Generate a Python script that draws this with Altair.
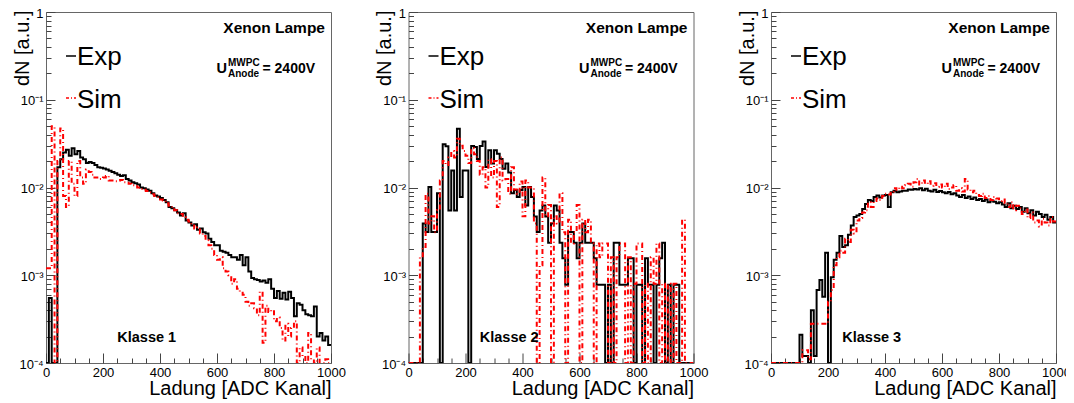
import altair as alt
import pandas as pd

# ---------------- data ----------------
BIN_EDGES = list(range(0, 1001, 10))  # 100 bins of 10 ADC channels
X_LABEL_VALUES = [0, 200, 400, 600, 800, 1000]
X_MINOR_VALUES = [50, 100, 150, 250, 300, 350, 450, 500, 550, 650, 700, 750, 850, 900, 950]
Y_MAJOR_VALUES = [0.0001, 0.001, 0.01, 0.1, 1.0]
Y_MINOR_VALUES = [0.0002, 0.0003, 0.0004, 0.0005, 0.0006, 0.0007, 0.0008, 0.0009,
                  0.002, 0.003, 0.004, 0.005, 0.006, 0.007, 0.008, 0.009,
                  0.02, 0.03, 0.04, 0.05, 0.06, 0.07, 0.08, 0.09,
                  0.2, 0.3, 0.4, 0.5, 0.6, 0.7, 0.8, 0.9]
SERIES = ["Exp", "Sim"]
COLORS = ["#000000", "#ff0000"]
DASHES = [[1, 0], [5, 3, 1, 3]]
KLASSEN = ["Klasse 1", "Klasse 2", "Klasse 3"]
LAMP = "Xenon Lampe"
VOLT = "= 2400V"

exp1 = [0, 0.00055, 0, 0, 0.017, 0.021, 0.025, 0.027, 0.023, 0.028,
        0.024, 0.026, 0.022, 0.021, 0.019, 0.0195, 0.019, 0.018, 0.017, 0.0168,
        0.0165, 0.016, 0.0155, 0.015, 0.0145, 0.014, 0.0135, 0.0138, 0.0125, 0.012,
        0.0115, 0.0112, 0.0108, 0.0100, 0.0098, 0.0095, 0.0092, 0.0086, 0.0081, 0.0079,
        0.0076, 0.0072, 0.0068, 0.0060, 0.0058, 0.0055, 0.0052, 0.0048, 0.0051, 0.0042,
        0.0040, 0.0037, 0.0038, 0.0033, 0.0034, 0.0031, 0.0030, 0.0026, 0.0024, 0.0022,
        0.0022, 0.0019, 0.00185, 0.0018, 0.0017, 0.0016, 0.0016, 0.0015, 0.0017, 0.0013,
        0.0016, 0.0011, 0.00093, 0.0009, 0.00088, 0.00085, 0.00087, 0.00082, 0.0009, 0.0007,
        0.00055, 0.00066, 0.00054, 0.00063, 0.00053, 0.00065, 0.00055, 0.00034, 0.00048, 0.00046,
        0.0004, 0.00036, 0.00035, 0.00034, 0.00044, 0.0002, 0.00022, 0.00018, 0.0002, 0.00016]
sim1 = [0.0012, 0.0012, 0.05, 0, 0.02, 0.047, 0.008, 0.006, 0.02, 0.011,
        0.008, 0.02, 0.013, 0.011, 0.016, 0.015, 0.014, 0.013, 0.0125, 0.0125,
        0.013, 0.0135, 0.012, 0.012, 0.0118, 0.012, 0.0122, 0.0115, 0.0113, 0.011,
        0.0106, 0.0103, 0.0100, 0.0096, 0.0094, 0.0091, 0.0088, 0.0084, 0.0080, 0.0078,
        0.0073, 0.0071, 0.0066, 0.0062, 0.0060, 0.0055, 0.0051, 0.0050, 0.0046, 0.0043,
        0.0041, 0.0037, 0.0034, 0.0035, 0.0030, 0.0028, 0.0025, 0.0022, 0.0020, 0.0017,
        0.0015, 0.0016, 0.0012, 0.0011, 0.0010, 0.0008, 0.0009, 0.0007, 0.00065, 0.0006,
        0.0005, 0.00045, 0.00048, 0.00042, 0.00035, 0.00065, 0.00017, 0.00045, 0.00038, 0.0004,
        0.0003, 0.00033, 0.00025, 0.00018, 0.00028, 0.0002, 0.00025, 0.0003, 0, 0.00015,
        0.00012, 0, 0.00022, 0.00011, 0, 0.00015, 0, 0, 0.00011, 0]

exp2 = [0, 0, 0, 0, 0, 0.0039, 0.00312, 0.01014, 0.00312, 0.00312,
        0.00858, 0, 0.0312, 0.0296, 0.00546, 0.0156, 0.00546, 0.0468, 0.0078, 0.0156,
        0.0156, 0, 0.02964, 0.02886, 0.02106, 0.02964, 0.03354, 0.01716, 0.02652, 0.01872,
        0.02652, 0.02418, 0.02106, 0.01638, 0.01872, 0.01482, 0.00858, 0.00936, 0.0078, 0.00936,
        0.01014, 0.00624, 0.01014, 0.0078, 0.00468, 0.00312, 0.00546, 0.00624, 0.00468, 0.00234,
        0.0039, 0.00624, 0.00546, 0.00234, 0.00156, 0.00078, 0.00312, 0.00312, 0.00234, 0.00156,
        0.00234, 0.0039, 0.00234, 0.00234, 0.00234, 0.00156, 0.00078, 0.00078, 0.00078, 0,
        0.00078, 0, 0.00234, 0.00234, 0.00078, 0.00078, 0.00078, 0.00156, 0.00156, 0,
        0.00078, 0.00078, 0, 0.00156, 0.00078, 0.00078, 0, 0.00078, 0.00156, 0.00234,
        0, 0.00078, 0, 0.00078, 0.00078, 0, 0, 0, 0, 0]
sim2 = [0, 0, 0, 0, 0.0016, 0.0021, 0.0085, 0.0039, 0.0047, 0.0031,
        0.0055, 0.012, 0.020, 0.018, 0.022, 0.026, 0.022, 0.036, 0.030, 0.026,
        0.023, 0.019, 0.028, 0.024, 0.020, 0.014, 0.017, 0.010, 0.021, 0.013,
        0.020, 0.006, 0.022, 0.012, 0.0125, 0.0085, 0.017, 0.0095, 0.0085, 0.0117,
        0.0047, 0.012, 0.010, 0.010, 0.0039, 0, 0.0013, 0.013, 0.0047, 0.0063,
        0, 0.0047, 0.0039, 0.0086, 0.0031, 0, 0.0043, 0.0023, 0.0031, 0.0063,
        0, 0.0043, 0.0031, 0.0043, 0.0023, 0, 0.0023, 0.0016, 0.0023, 0.0023,
        0, 0.0016, 0, 0.0016, 0.0023, 0.0023, 0, 0.0016, 0, 0.0008,
        0.0023, 0.0023, 0, 0.0008, 0, 0.0016, 0.0008, 0.0023, 0, 0.0008,
        0, 0.0008, 0, 0.0008, 0, 0, 0.0043, 0, 0, 0]

exp3 = [0, 0, 0, 0, 0, 0, 0, 0, 0, 0,
        0.00021, 0.00012, 0.00012, 0, 0.0004, 0.00012, 0.00068, 0.00088, 0.00057, 0.0018,
        0, 0.00095, 0.0015, 0.0018, 0.0028, 0.0021, 0.0022, 0.0029, 0.0037, 0.0046,
        0.0048, 0.0050, 0.0057, 0.0065, 0.0072, 0.0070, 0.0078, 0.0081, 0.0077, 0.0081,
        0.0082, 0.0060, 0.0088, 0.0092, 0.0088, 0.0090, 0.0092, 0.0092, 0.0095, 0.0094,
        0.0096, 0.0095, 0.0098, 0.0093, 0.0097, 0.0092, 0.0090, 0.0094, 0.0089, 0.0091,
        0.0088, 0.0086, 0.0089, 0.0084, 0.0086, 0.0081, 0.0078, 0.0082, 0.0076, 0.0079,
        0.0074, 0.0077, 0.0072, 0.0074, 0.0070, 0.0073, 0.0068, 0.0071, 0.0069, 0.0066,
        0.0068, 0.0064, 0.0060, 0.0066, 0.0058, 0.0062, 0.0057, 0.0060, 0.0053, 0.0058,
        0.0051, 0.0055, 0.0048, 0.0053, 0.0050, 0.0046, 0.0049, 0.0043, 0.0046, 0.0040]
sim3 = [0, 0, 0, 0, 0, 0, 0, 0, 0, 0,
        0, 0.00014, 0.00014, 0.00011, 0.00028, 0.00028, 0.00028, 0.00028, 0.00028, 0.00028,
        0.0005, 0.00068, 0.0013, 0.0016, 0.0019, 0.0018, 0.0026, 0.0024, 0.0033, 0.0030,
        0.0042, 0.0045, 0.0052, 0.0055, 0.0068, 0.0060, 0.0070, 0.0075, 0.0072, 0.0080,
        0.0085, 0.0083, 0.0090, 0.0098, 0.0094, 0.0102, 0.0098, 0.0106, 0.0110, 0.0102,
        0.0115, 0.0125, 0.0108, 0.0120, 0.0110, 0.0118, 0.0105, 0.0112, 0.0102, 0.0108,
        0.0100, 0.0110, 0.0096, 0.0100, 0.0106, 0.0092, 0.0098, 0.0090, 0.0125, 0.0095,
        0.0088, 0.0092, 0.0082, 0.0080, 0.0085, 0.0076, 0.0080, 0.0072, 0.0078, 0.0075,
        0.0070, 0.0073, 0.0066, 0.0060, 0.0068, 0.0055, 0.0062, 0.0058, 0.0050, 0.0056,
        0.0045, 0.0052, 0.0040, 0.0042, 0.0036, 0.0044, 0.0040, 0.0037, 0.0046, 0.0041]

# ---------------- layout / style ----------------
W, H = 285, 351
FONT = "Liberation Sans"
TICK = "#444444"


def hist_frame(values, name):
    return pd.DataFrame({"ladung": BIN_EDGES,
                         "dN": list(values) + [values[-1]],
                         "serie": name})


def text_layer(txt, x, y, size, align="left", weight="bold"):
    return alt.Chart(pd.DataFrame({"t": [txt]})).mark_text(
        align=align, baseline="alphabetic", font=FONT, fontSize=size,
        fontWeight=weight, color="black"
    ).encode(text="t:N", x=alt.value(x), y=alt.value(y))


def legend_sample(name, color, dash, y):
    return alt.Chart(pd.DataFrame({"serie": [name]})).mark_rule(
        color=color, strokeWidth=1.3, strokeDash=dash
    ).encode(x=alt.value(20), x2=alt.value(30), y=alt.value(y))


def panel(exp, sim, klasse):
    df = pd.concat([hist_frame(exp, "Exp"), hist_frame(sim, "Sim")], ignore_index=True)
    base = alt.Chart(df).transform_calculate(yv="max(datum.dN, 1e-6)")
    xsc = alt.Scale(domain=[0, 1000], nice=False, zero=False)
    ysc = alt.Scale(type="log", domain=[0.0001, 1], clamp=True, nice=False)
    color = alt.Color("serie:N", scale=alt.Scale(domain=SERIES, range=COLORS), legend=None)
    dash = alt.StrokeDash("serie:N", scale=alt.Scale(domain=SERIES, range=DASHES), legend=None)

    x_lab = alt.Axis(orient="bottom", values=X_LABEL_VALUES, tickSize=0, labelPadding=3,
                     labelFontSize=13, labelFlush=False, labelOverlap=False,
                     labelColor="black", format="d",
                     title="Ladung [ADC Kanal]", titleFontSize=20, titleFontWeight="normal",
                     titleAlign="right", titleBaseline="alphabetic", titleX=W, titleY=31)
    y_lab = alt.Axis(orient="left", values=Y_MAJOR_VALUES, tickSize=0, labelPadding=3,
                     labelFontSize=13, labelColor="black", labelOverlap=False, labelOffset=1,
                     labelExpr="datum.value >= 0.5 ? '1' : datum.value >= 0.05 ? '10⁻¹' : "
                               "datum.value >= 0.005 ? '10⁻²' : datum.value >= 0.0005 ? '10⁻³' : '10⁻⁴'",
                     title="dN [a.u.]", titleFontSize=20, titleFontWeight="normal",
                     titleAngle=270, titleAlign="right", titleBaseline="alphabetic",
                     titleX=-18, titleY=-2)
    x_major = alt.Axis(orient="top", offset=-H, values=X_LABEL_VALUES, tickSize=10,
                       labels=False, title=None, tickColor=TICK)
    x_minor = alt.Axis(orient="top", offset=-H, values=X_MINOR_VALUES, tickSize=5,
                       labels=False, title=None, tickColor=TICK)
    y_major = alt.Axis(orient="right", offset=-W, values=Y_MAJOR_VALUES, tickSize=9,
                       labels=False, title=None, tickColor=TICK)
    y_minor = alt.Axis(orient="right", offset=-W, values=Y_MINOR_VALUES, tickSize=5,
                       labels=False, title=None, tickColor=TICK)

    def hist(name, xa, ya, width):
        return base.transform_filter(alt.datum.serie == name).mark_line(
            interpolate="step-after", strokeWidth=width, clip=True
        ).encode(
            x=alt.X("ladung:Q", scale=xsc, axis=xa),
            y=alt.Y("yv:Q", scale=ysc, axis=ya),
            color=color, strokeDash=dash,
        )

    def ticks(xa, ya):
        return base.mark_point(opacity=0).encode(
            x=alt.X("ladung:Q", scale=xsc, axis=xa),
            y=alt.Y("yv:Q", scale=ysc, axis=ya),
        )

    layers = [
        ticks(x_major, y_major),
        ticks(x_minor, y_minor),
        hist("Exp", x_lab, y_lab, 2),
        hist("Sim", None, None, 2),
        legend_sample("Exp", COLORS[0], [1, 0], 44),
        legend_sample("Sim", COLORS[1], [3, 2, 1, 2], 86),
        text_layer(SERIES[0], 31, 53, 26, weight="normal"),
        text_layer(SERIES[1], 31, 96.3, 26, weight="normal"),
        text_layer(LAMP, 279, 21.3, 15.5, align="right"),
        text_layer("U", 170.5, 60.7, 14.5),
        text_layer("MWPC", 182, 54, 10),
        text_layer("Anode", 182, 65.3, 10),
        text_layer(VOLT, 216.5, 60.7, 14),
        text_layer(klasse, 71.3, 329.7, 14.5),
    ]
    return alt.layer(*layers).resolve_axis(x="independent", y="independent").properties(
        width=W, height=H)


p1 = panel(exp1, sim1, KLASSEN[0])
p2 = panel(exp2, sim2, KLASSEN[1])
p3 = panel(exp3, sim3, KLASSEN[2])

# fixed canvas: plot areas at x = 46 / 408 / 771 and y = 12 .. 363 on the page
chart = alt.hconcat(p1, p2, p3, spacing=77.5, bounds="flush").properties(
    autosize=alt.AutoSizeParams(type="none"),
    padding={"left": 38, "top": 4, "right": 1020, "bottom": 383}
).configure(font=FONT).configure_axis(
    grid=False, domain=False, labelFont=FONT, titleFont=FONT, titleColor="black"
).configure_view(stroke="#666666", strokeWidth=1)

chart.save("out.html", embed_options={"renderer": "svg", "actions": False})
